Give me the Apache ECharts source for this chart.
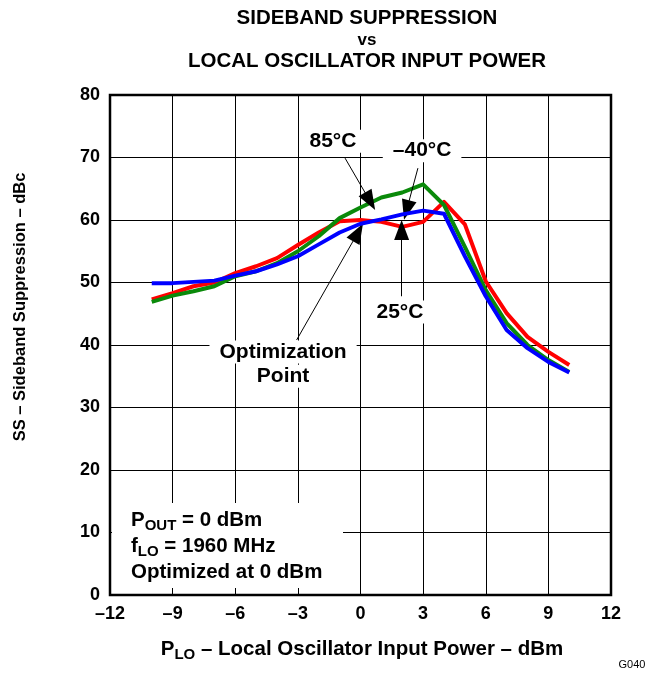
<!DOCTYPE html>
<html>
<head>
<meta charset="utf-8">
<script src="https://cdn.jsdelivr.net/npm/echarts@6/dist/echarts.min.js"></script>
<style>
  html, body { margin: 0; padding: 0; background: #fff; }
  #chart { width: 654px; height: 675px; }
</style>
</head>
<body>
<div id="chart"></div>
<script>
// P_LO (dBm) sample points
const xValues = [-10, -9, -8, -7, -6, -5, -4, -3, -2, -1, 0, 1, 2, 3, 4, 5, 6, 7, 8, 9, 10]

// sideband suppression (dBc) per temperature
const ss25 = [47.3, 48.3, 49.4, 50.0, 51.5, 52.6, 53.9, 56.0, 58.0, 59.8, 60.0, 59.7, 58.9, 59.7, 62.9, 59.3, 50.2, 45.1, 41.3, 38.9, 36.8]
const ss85 = [46.9, 47.9, 48.6, 49.4, 51.0, 51.8, 53.1, 55.0, 57.4, 60.3, 62.0, 63.6, 64.4, 65.7, 62.4, 55.7, 48.8, 43.5, 40.0, 37.6, 35.7]
const ssM40 = [49.9, 49.9, 50.1, 50.3, 51.1, 51.8, 52.9, 54.2, 56.1, 58.0, 59.4, 60.1, 60.9, 61.5, 61.0, 54.2, 47.8, 42.4, 39.5, 37.3, 35.6]

const xTicks = [-12, -9, -6, -3, 0, 3, 6, 9, 12]
const yTicks = [0, 10, 20, 30, 40, 50, 60, 70, 80]

// callout arrows in data coords: [tail, tip]
const arrows = [
  [[-0.74, 69.9], [0.46, 63.0]],   // 85°C
  [[2.75, 68.3], [2.21, 61.6]],    // -40°C
  [[1.97, 47.8], [1.97, 58.4]],    // 25°C
  [[-3.06, 40.8], [-0.12, 58.0]],  // optimization point
]
// callout labels in data coords
const callouts = [
  { text: '85°C', at: [-1.32, 72.6] },
  { text: '–40°C', at: [2.95, 71.1] },
  { text: '25°C', at: [1.89, 45.3] },
  { text: 'Optimization', at: [-3.71, 38.9] },
  { text: 'Point', at: [-3.71, 35.0] },
]

const FONT = 'Liberation Sans, Arial, Helvetica, sans-serif'
const dash = v => String(v).replace('-', '–')

const chart = echarts.init(document.getElementById('chart'))

function pairs(ys) {
  return xValues.map((x, i) => [x, ys[i]])
}

function lineSeries(name, data, color, z) {
  return {
    name,
    type: 'line',
    data: pairs(data),
    showSymbol: false,
    symbol: 'none',
    z,
    lineStyle: { color, width: 4, join: 'round' },
    emphasis: { disabled: true },
  }
}

const option = {
  animation: false,
  title: {
    text: 'SIDEBAND SUPPRESSION\n{vs|vs}\nLOCAL OSCILLATOR INPUT POWER',
    left: 362,
    textAlign: 'center',
    top: 3,
    textStyle: {
      fontFamily: FONT,
      fontWeight: 'bold',
      fontSize: 20.5,
      lineHeight: 21.5,
      color: '#000',
      rich: { vs: { fontFamily: FONT, fontWeight: 'bold', fontSize: 17, lineHeight: 21.5 } },
    },
  },
  grid: {
    left: 110, right: 43, top: 95, bottom: 80,
    show: true, borderColor: '#000', borderWidth: 2.5,
  },
  xAxis: {
    type: 'value',
    min: -12, max: 12, interval: 3,
    axisLine: { show: false },
    axisTick: { show: true, inside: true, length: 7, lineStyle: { color: '#000' } },
    splitLine: { show: true, lineStyle: { color: '#000', width: 1 } },
    axisLabel: {
      fontFamily: FONT, fontWeight: 'bold', fontSize: 18, color: '#000', margin: 10,
      formatter: v => xTicks.includes(v) ? dash(v) : '',
    },
  },
  yAxis: {
    type: 'value',
    min: 0, max: 80, interval: 10,
    axisLine: { show: false },
    axisTick: { show: true, inside: true, length: 7, lineStyle: { color: '#000' } },
    splitLine: { show: true, lineStyle: { color: '#000', width: 1 } },
    axisLabel: {
      fontFamily: FONT, fontWeight: 'bold', fontSize: 18, color: '#000', margin: 10,
      formatter: v => yTicks.includes(v) ? String(v) : '',
    },
  },
  series: [
    lineSeries('25°C', ss25, '#ff0000', 3),
    lineSeries('85°C', ss85, '#0a8a0a', 4),
    Object.assign(lineSeries('-40°C', ssM40, '#0000ff', 5), {
      markLine: {
        silent: true,
        symbol: ['none', 'triangle'],
        symbolSize: [15, 20],
        label: { show: false },
        lineStyle: { color: '#000', width: 1, type: 'solid' },
        data: arrows.map(([a, b]) => [{ coord: a }, { coord: b }]),
      },
    }),
  ],
}

chart.setOption(option)

// white label boxes, positioned through the grid's scales
const elements = []
callouts.forEach(c => {
  const [px, py] = chart.convertToPixel({ gridIndex: 0 }, c.at)
  elements.push({
    type: 'text',
    x: px, y: py, z: 100,
    style: {
      text: c.text, fill: '#000',
      font: 'bold 21px ' + FONT,
      align: 'center', verticalAlign: 'middle',
      backgroundColor: '#fff', padding: [1, 10],
    },
  })
})

// conditions box in the lower left corner
elements.push({
  type: 'rect', z: 90,
  shape: { x: 112, y: 503, width: 231, height: 85 },
  style: { fill: '#fff' },
})
elements.push({
  type: 'text', z: 100, left: 131, top: 507,
  style: {
    rich: {
      t: { font: 'bold 20.5px ' + FONT, fill: '#000', lineHeight: 26 },
      s: { font: 'bold 15px ' + FONT, fill: '#000', padding: [11, 0, 0, 0], lineHeight: 26 },
    },
    text: '{t|P}{s|OUT}{t| = 0 dBm}\n{t|f}{s|LO}{t| = 1960 MHz}\n{t|Optimized at 0 dBm}',
  },
})

// axis names
elements.push({
  type: 'text', z: 100, x: 20, y: 307, rotation: Math.PI / 2,
  style: {
    text: 'SS – Sideband Suppression – dBc', fill: '#000',
    font: 'bold 16.5px ' + FONT, align: 'center', verticalAlign: 'middle',
  },
})
elements.push({
  type: 'text', z: 100, x: 362, y: 649,
  style: {
    rich: {
      t: { font: 'bold 20.5px ' + FONT, fill: '#000' },
      s: { font: 'bold 15px ' + FONT, fill: '#000', padding: [11, 0, 0, 0] },
    },
    text: '{t|P}{s|LO}{t| – Local Oscillator Input Power – dBm}',
    align: 'center', verticalAlign: 'middle',
  },
})
elements.push({
  type: 'text', z: 100, x: 632, y: 665,
  style: {
    text: 'G040', fill: '#000', font: '11px ' + FONT,
    align: 'center', verticalAlign: 'middle',
  },
})

chart.setOption({ graphic: { elements } })
</script>
</body>
</html>
